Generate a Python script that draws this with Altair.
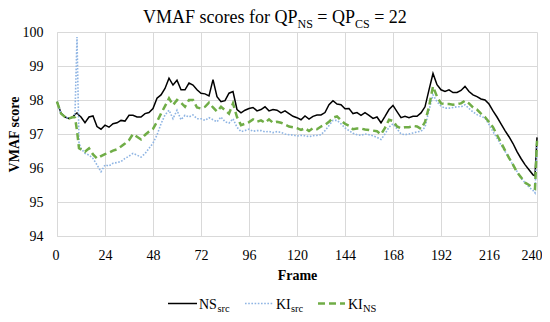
import altair as alt
import pandas as pd

# ---- data -------------------------------------------------------------
frames = [0, 2, 4, 6, 8, 9, 10, 11] + list(range(12, 240, 2)) + [239, 240]

ns_src = [97.95, 97.62, 97.5, 97.46, 97.5, 97.58, 97.62, 97.55,
          97.5, 97.33, 97.5, 97.53, 97.22, 97.14, 97.26, 97.2, 97.3, 97.33, 97.4, 97.38,
          97.55, 97.55, 97.5, 97.5, 97.6, 97.63, 97.75, 98.05, 98.15, 98.34, 98.64, 98.44,
          98.58, 98.3, 98.3, 98.5, 98.44, 98.3, 98.2, 98.18, 98.12, 98.6, 98.1, 97.95,
          97.98, 98.2, 98.25, 97.72, 97.62, 97.7, 97.75, 97.78, 97.68, 97.72, 97.8, 97.68,
          97.72, 97.7, 97.62, 97.68, 97.6, 97.52, 97.48, 97.42, 97.53, 97.44, 97.52, 97.56,
          97.56, 97.63, 97.86, 97.98, 97.88, 97.86, 97.74, 97.75, 97.6, 97.63, 97.55, 97.63,
          97.55, 97.46, 97.5, 97.33, 97.52, 97.72, 97.84, 97.66, 97.48, 97.52, 97.48, 97.52,
          97.52, 97.62, 97.8, 98.3, 98.78, 98.45, 98.3, 98.25, 98.3, 98.22, 98.22, 98.28,
          98.4, 98.25, 98.15, 98.1, 98.03, 98.0, 97.88, 97.68, 97.5, 97.3, 97.1, 96.92,
          96.72, 96.48, 96.28, 96.1, 95.95, 95.8,
          95.77, 96.9]

ki_src = [97.95, 97.6, 97.5, 97.46, 97.5, 97.6, 99.85, 96.73,
          96.58, 96.43, 96.38, 96.28, 96.09, 95.89, 96.09, 96.06, 96.14, 96.16, 96.19, 96.28,
          96.35, 96.43, 96.38, 96.32, 96.42, 96.58, 96.73, 96.97, 97.3, 97.56, 97.7, 97.45,
          97.7, 97.42, 97.55, 97.5, 97.56, 97.45, 97.45, 97.4, 97.48, 97.42, 97.36, 97.5,
          97.36, 97.32, 97.45, 97.2, 97.07, 97.1, 97.14, 97.08, 97.1, 97.1, 97.06, 97.08,
          97.04, 97.07, 97.05, 97.0, 96.98, 96.97, 96.94, 96.96, 96.95, 96.92, 96.95, 96.96,
          96.98, 97.1, 97.25, 97.4, 97.4, 97.3, 97.18, 97.1, 97.02, 96.98, 96.96, 97.0,
          96.98, 96.95, 96.9, 96.84, 97.0, 97.2, 97.3, 97.15, 97.0, 96.98, 97.0, 97.03,
          97.06, 97.08, 97.2, 97.7, 98.15, 97.95, 97.82, 97.76, 97.76, 97.78, 97.8, 97.8,
          97.86, 97.75, 97.65, 97.57, 97.52, 97.47, 97.28, 97.07, 96.88, 96.68, 96.49, 96.3,
          96.08, 95.9, 95.7, 95.57, 95.44, 95.34,
          95.27, 96.7]

ki_ns = [97.95, 97.6, 97.5, 97.46, 97.5, 97.48, 97.1, 96.58,
         96.55, 96.48, 96.58, 96.4, 96.28, 96.35, 96.41, 96.45, 96.51, 96.55, 96.63, 96.72,
         96.82, 97.0, 96.92, 96.84, 96.97, 97.07, 97.15, 97.36, 97.6, 97.82, 98.05, 97.85,
         98.0, 97.92, 97.8, 98.0, 98.0, 97.78, 97.75, 97.8, 97.92, 97.78, 97.66, 97.8,
         97.7, 97.6, 97.9, 97.5, 97.26, 97.3, 97.35, 97.43, 97.36, 97.4, 97.33, 97.43,
         97.33, 97.36, 97.33, 97.28, 97.22, 97.2, 97.17, 97.12, 97.17, 97.09, 97.17, 97.14,
         97.22, 97.27, 97.36, 97.48, 97.52, 97.4, 97.3, 97.24, 97.14, 97.16, 97.16, 97.13,
         97.12, 97.1, 97.08, 96.99, 97.18, 97.42, 97.38, 97.22, 97.17, 97.2, 97.2, 97.24,
         97.22, 97.15, 97.35, 97.8, 98.4, 98.1, 97.9, 97.88, 97.88, 97.86, 97.88, 97.9,
         97.98, 97.9, 97.78, 97.72, 97.6, 97.5, 97.35, 97.2, 96.97, 96.75, 96.52, 96.3,
         96.1, 95.88, 95.73, 95.57, 95.5, 95.42,
         95.39, 96.8]

series_names = ["NS_src", "KI_src", "KI_NS"]
x_ticks = [0, 24, 48, 72, 96, 120, 144, 168, 192, 216, 240]
y_ticks = [94, 95, 96, 97, 98, 99, 100]

rows = []
for name, vals in zip(series_names, [ns_src, ki_src, ki_ns]):
    for f, v in zip(frames, vals):
        rows.append({"frame": f, "score": v, "series": name})
df = pd.DataFrame(rows)

# ---- styling -----------------------------------------------------------
FONT = "Liberation Serif"
W, H = 480, 204
GRID = "#d9d9d9"

x_enc = alt.X("frame:Q",
              scale=alt.Scale(domain=[0, 240], nice=False),
              axis=alt.Axis(values=x_ticks, title="Frame", grid=True,
                            gridColor=GRID, domainColor=GRID, ticks=False, tickSize=0,
                            labelFont=FONT, labelFontSize=14, labelColor="black",
                            labelPadding=12, labelFlush=True, labelFlushOffset=5,
                            titleFont=FONT, titleFontSize=14, titleFontWeight="bold",
                            titleColor="black", titleY=39, titleBaseline="middle"))
y_enc = alt.Y("score:Q",
              scale=alt.Scale(domain=[94, 100], nice=False, zero=False),
              axis=alt.Axis(values=y_ticks, title="VMAF score", grid=True,
                            gridColor=GRID, domainColor=GRID, ticks=False, tickSize=0,
                            labelFont=FONT, labelFontSize=14, labelColor="black",
                            labelPadding=14, labelFlush=False,
                            titleFont=FONT, titleFontSize=14, titleFontWeight="bold",
                            titleColor="black", titleX=-42.5, titleY=H / 2,
                            titleAngle=270, titleBaseline="middle", titleAlign="center"))


def series_line(name, color, width, dash=None):
    kw = dict(color=color, strokeWidth=width, interpolate="linear")
    if dash:
        kw["strokeDash"] = dash
    return (alt.Chart(df).transform_filter(alt.datum.series == name)
            .mark_line(**kw).encode(x=x_enc, y=y_enc))


one = alt.Data(values=[{}])


def txt(s, x, y, size, weight="normal"):
    return alt.Chart(one).mark_text(text=s, align="left", baseline="alphabetic",
                                    font=FONT, fontSize=size, fontWeight=weight,
                                    color="black").encode(x=alt.value(x), y=alt.value(y))


def leg_rule(x1, x2, y, color, width, dash=None):
    kw = dict(color=color, strokeWidth=width)
    if dash:
        kw["strokeDash"] = dash
    return alt.Chart(one).mark_rule(**kw).encode(x=alt.value(x1), x2=alt.value(x2),
                                                 y=alt.value(y))


BLACK, BLUE, GREEN = "#000000", "#8EB4E3", "#70AD47"
LEG_Y = 271.5

layers = [
    series_line("NS_src", BLACK, 1.5),
    series_line("KI_src", BLUE, 1.6, [1.6, 1.6]),
    series_line("KI_NS", GREEN, 2.5, [7, 4]),
    # title with subscripts
    txt("VMAF scores for QP", 86, -9.5, 18),
    txt("NS", 240.5, -4.5, 12),
    txt("= QP", 260.3, -9.5, 18),
    txt("CS", 298, -4.5, 12),
    txt("= 22", 317.2, -9.5, 18),
    # legend
    leg_rule(111, 140, LEG_Y, BLACK, 1.5),
    txt("NS", 142, LEG_Y + 5, 14),
    txt("src", 160.5, LEG_Y + 8, 10.5),
    leg_rule(188, 216, LEG_Y, BLUE, 1.6, [1.6, 1.6]),
    txt("KI", 219, LEG_Y + 5, 14),
    txt("src", 234, LEG_Y + 8, 10.5),
    leg_rule(261, 288, LEG_Y, GREEN, 2.5, [7, 4]),
    txt("KI", 291, LEG_Y + 5, 14),
    txt("NS", 306, LEG_Y + 8, 10.5),
]

chart = (alt.layer(*layers)
         .properties(width=W, height=H,
                     autosize=alt.AutoSizeParams(type="none"),
                     padding={"left": 49, "top": 24, "right": 5, "bottom": 78},
                     background="white")
         .configure_view(stroke=None))

chart.save("out.html", embed_options={"renderer": "svg", "actions": False})
